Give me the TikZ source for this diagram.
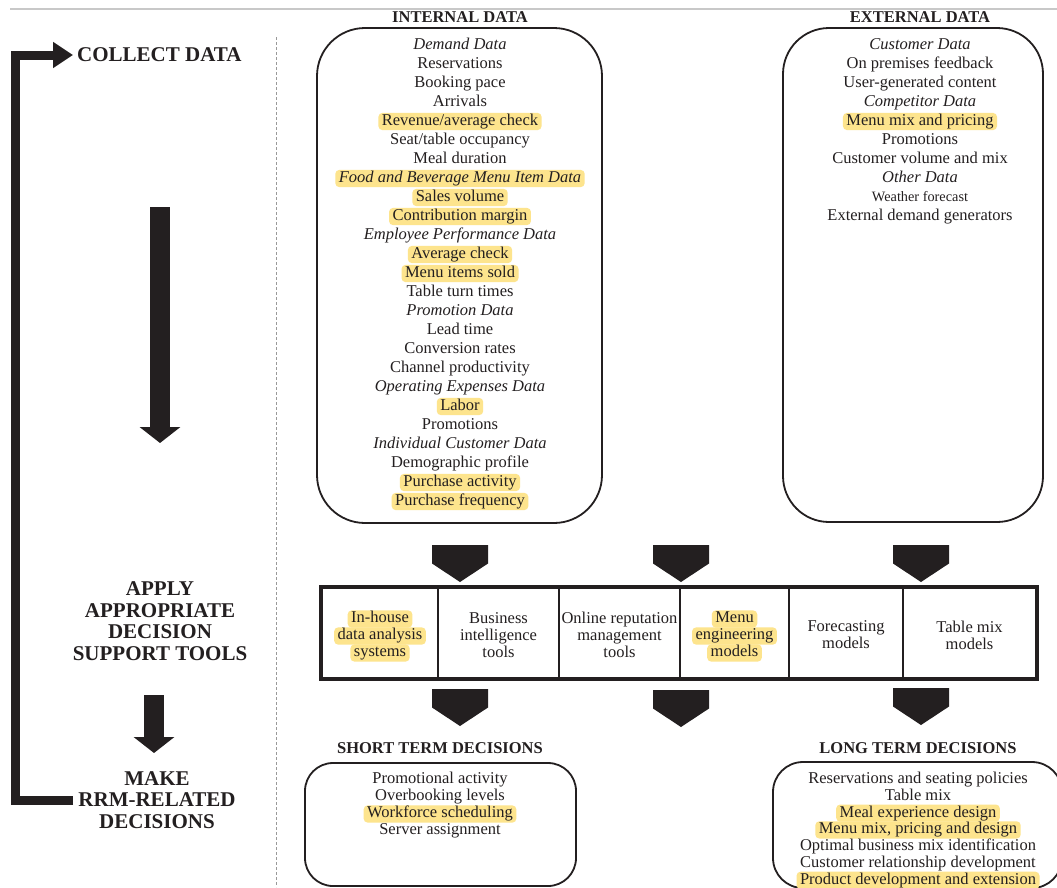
\documentclass[tikz,border=0pt]{standalone}
\usepackage{fontspec}
\setmainfont{Liberation Serif}
\usetikzlibrary{arrows.meta}
\definecolor{ink}{HTML}{231F20}
\definecolor{hly}{RGB}{253,228,141}
\definecolor{rulegray}{RGB}{200,200,200}
\newcommand\bodyfont{\fontsize{16.5}{19}\selectfont}
\newcommand\toolfont{\fontsize{16.5}{17}\selectfont}
\newcommand\headfont{\fontsize{16.5}{18}\selectfont\bfseries}
\newcommand\stagefont{\fontsize{21}{21.5}\selectfont\bfseries}
\begin{document}
\begin{tikzpicture}[x=1pt,y=-1pt,
  entry/.style={inner sep=0pt, text=ink, font=\bodyfont, text height=11.5pt, text depth=3.7pt},
  plm/.style={entry},
  itm/.style={entry, font=\bodyfont\itshape},
  hlm/.style={entry, fill=hly, rounded corners=4pt, inner xsep=3.5pt, inner ysep=1pt},
  hli/.style={hlm, font=\bodyfont\itshape},
  small/.style={entry, font=\fontsize{14.3}{17}\selectfont},
  panel/.style={draw=ink, line width=1.8pt, rounded corners=#1, inner sep=0pt},
  head/.style={text=ink, font=\headfont, inner sep=1pt},
  stage/.style={text=ink, font=\stagefont, align=center, inner xsep=5pt, inner ysep=0pt},
  toolcell/.style={draw=ink, line width=2.5pt, minimum height=90pt, inner sep=0pt},
  tooltext/.style={text=ink, font=\toolfont, align=center, inner sep=0pt},
  loopline/.style={draw=ink, line width=9pt, -{Triangle[length=20pt, width=25pt]}},
  flowdown/.style={draw=ink, line width=20pt, -{Triangle[length=16pt, width=40pt]}},
  blockdown/.pic={\fill[ink] (-28,0) -- (28,0) -- (28,18.5) -- (0,37) -- (-28,18.5) -- cycle;}
]
% canvas
\fill[white] (0,0) rectangle (1057,887);
\useasboundingbox (0,0) rectangle (1057,887);
\clip (0,0) rectangle (1057,887);

% page rule and column separator
\draw[rulegray, line width=1.5pt] (10,9) -- (1057,9);
\draw[gray!80, line width=1pt, dash pattern=on 3pt off 2pt] (276,37) -- (276,887);

% process stages on the left
\node[stage, anchor=west, inner xsep=4pt] (collect) at (73,55) {COLLECT DATA};
\node[stage] (apply) at (160,621) {APPLY\\APPROPRIATE\\DECISION\\SUPPORT TOOLS};
\node[stage] (make) at (157,800) {MAKE\\RRM-RELATED\\DECISIONS};

\coordinate (c1) at (160,207);
\coordinate (c2) at (160,443);
\draw[flowdown] (c1) -- (c2);
\coordinate (a1) at (154,695);
\coordinate (a2) at (154,753);
\draw[flowdown] (a1) -- (a2);

\coordinate (lx) at (15,0);
\draw[loopline] (make.west) -- (make.west -| lx) |- (collect.west);

% data panels
\node[head] (inthead) at (460,17) {INTERNAL DATA};
\node[head] (exthead) at (920,17) {EXTERNAL DATA};
\node[panel=48pt, minimum width=285pt, minimum height=495pt] (intbox) at (459.5,275.5) {};
\node[panel=46pt, minimum width=260pt, minimum height=494pt] (extbox) at (913,275) {};

\foreach \s/\t [count=\k from 0] in {
  itm/Demand Data, plm/Reservations, plm/Booking pace, plm/Arrivals,
  hlm/{Revenue/average check}, plm/{Seat/table occupancy}, plm/Meal duration,
  hli/Food and Beverage Menu Item Data, hlm/Sales volume, hlm/Contribution margin,
  itm/Employee Performance Data, hlm/Average check, hlm/Menu items sold,
  plm/Table turn times, itm/Promotion Data, plm/Lead time, plm/Conversion rates,
  plm/Channel productivity, itm/Operating Expenses Data, hlm/Labor, plm/Promotions,
  itm/Individual Customer Data, plm/Demographic profile, hlm/Purchase activity,
  hlm/Purchase frequency}
  \node[\s] (int\k) at (460,45.5+19*\k) {\t};

\foreach \s/\t [count=\k from 0] in {
  itm/Customer Data, plm/On premises feedback, plm/User-generated content,
  itm/Competitor Data, hlm/Menu mix and pricing, plm/Promotions,
  plm/Customer volume and mix, itm/Other Data, small/Weather forecast,
  plm/External demand generators}
  \node[\s] (ext\k) at (920,45.5+19*\k) {\t};

% flow into the decision support tools
\pic (in1) at (460,545) {blockdown};
\pic (in2) at (681,545) {blockdown};
\pic (in3) at (921,545) {blockdown};

% decision support tools: cells, outer frame, labels
\node[toolcell, minimum width=116pt] (tool1) at (380,633) {};
\node[toolcell, minimum width=121pt] (tool2) at (498.5,633) {};
\node[toolcell, minimum width=121pt] (tool3) at (619.5,633) {};
\node[toolcell, minimum width=109pt] (tool4) at (734.5,633) {};
\node[toolcell, minimum width=114pt] (tool5) at (846,633) {};
\node[toolcell, minimum width=133pt] (tool6) at (969.5,633) {};
\draw[ink, line width=4pt] (tool1.north west) rectangle (tool6.south east);

\node[hlm, font=\toolfont] (tool1a) at (380,619) {In-house};
\node[hlm, font=\toolfont] (tool1b) at (380,636) {data analysis};
\node[hlm, font=\toolfont] (tool1c) at (380,653) {systems};
\node[tooltext] (tool2t) at (498.5,635) {Business\\intelligence\\tools};
\node[tooltext] (tool3t) at (619.5,635) {Online reputation\\management\\tools};
\node[hlm, font=\toolfont] (tool4a) at (734.5,619) {Menu};
\node[hlm, font=\toolfont] (tool4b) at (734.5,636) {engineering};
\node[hlm, font=\toolfont] (tool4c) at (734.5,653) {models};
\node[tooltext] (tool5t) at (846,635) {Forecasting\\models};
\node[tooltext] (tool6t) at (969.5,635) {Table mix\\models};

% flow into the decisions
\pic (out1) at (460,689) {blockdown};
\pic (out2) at (681,690) {blockdown};
\pic (out3) at (921,688) {blockdown};

% decision panels
\node[head] (sthead) at (440,748) {SHORT TERM DECISIONS};
\node[head] (lthead) at (918,748) {LONG TERM DECISIONS};
\node[panel=28pt, minimum width=271pt, minimum height=123pt] (stbox) at (440.5,824.5) {};
\node[panel=30pt, minimum width=289pt, minimum height=126pt] (ltbox) at (917.5,825) {};

\foreach \s/\t [count=\k from 0] in {
  plm/Promotional activity, plm/Overbooking levels, hlm/Workforce scheduling,
  plm/Server assignment}
  \node[\s] (st\k) at (440,780+17*\k) {\t};

\foreach \s/\t [count=\k from 0] in {
  plm/Reservations and seating policies, plm/Table mix, hlm/Meal experience design,
  hlm/{Menu mix, pricing and design}, plm/Optimal business mix identification,
  plm/Customer relationship development, hlm/Product development and extension}
  \node[\s] (lt\k) at (918,779.5+16.8*\k) {\t};
\end{tikzpicture}
\end{document}
